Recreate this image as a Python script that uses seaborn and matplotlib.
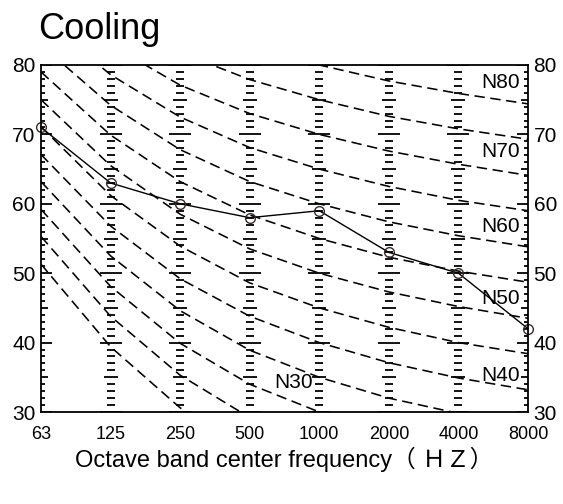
import pandas as pd
import matplotlib
matplotlib.use('Agg')
import matplotlib.pyplot as plt
import seaborn as sns

# Octave band centre frequencies and measured levels (cooling)
freqs = ['63', '125', '250', '500', '1000', '2000', '4000', '8000']
measured = [71, 63, 60, 58, 59, 53, 50, 42]

# N curves read per octave band
n20 = [51.3, 39.4, 30.6, 24.3, 20.0, 16.8, 14.4, 12.6]
n25 = [55.3, 43.8, 35.3, 29.2, 25.0, 21.9, 19.5, 17.8]
n30 = [59.2, 48.1, 39.9, 34.0, 30.0, 27.0, 24.7, 22.9]
n35 = [63.2, 52.5, 44.6, 38.9, 35.0, 32.0, 29.8, 28.1]
n40 = [67.1, 56.8, 49.2, 43.8, 40.0, 37.1, 34.9, 33.2]
n45 = [71.1, 61.2, 53.9, 48.6, 45.0, 42.2, 40.0, 38.4]
n50 = [75.0, 65.5, 58.5, 53.5, 50.0, 47.3, 45.2, 43.5]
n55 = [79.0, 69.9, 63.2, 58.4, 55.0, 52.3, 50.3, 48.7]
n60 = [82.9, 74.2, 67.8, 63.2, 60.0, 57.4, 55.4, 53.8]
n65 = [86.9, 78.6, 72.5, 68.1, 65.0, 62.5, 60.5, 59.0]
n70 = [90.8, 82.9, 77.1, 73.0, 70.0, 67.6, 65.7, 64.1]
n75 = [94.8, 87.3, 81.8, 77.9, 75.0, 72.6, 70.8, 69.3]
n80 = [98.7, 91.6, 86.4, 82.7, 80.0, 77.7, 75.9, 74.4]

curve_names = ['N20', 'N25', 'N30', 'N35', 'N40', 'N45', 'N50',
               'N55', 'N60', 'N65', 'N70', 'N75', 'N80']
curve_values = [n20, n25, n30, n35, n40, n45, n50,
                n55, n60, n65, n70, n75, n80]
labelled = ['N30', 'N40', 'N50', 'N60', 'N70', 'N80']

sns.set_style('white')
plt.rcParams['font.family'] = ['Liberation Sans', 'Noto Sans CJK JP']
plt.rcParams['text.color'] = 'black'
plt.rcParams['axes.labelcolor'] = 'black'
plt.rcParams['xtick.color'] = 'black'
plt.rcParams['ytick.color'] = 'black'

pos = list(range(len(freqs)))
rows = []
for name, vals in zip(curve_names, curve_values):
    for p, v in zip(pos, vals):
        rows.append({'curve': name, 'pos': p, 'level': v})
curves_df = pd.DataFrame(rows)
meas_df = pd.DataFrame({'pos': pos, 'level': measured})

fig = plt.figure(figsize=(5.63, 5.04), dpi=100)
ax = fig.add_axes([41 / 563, 92 / 504, 487 / 563, 347 / 504])

# graduated scales at every band (also gives the spine ticks, clipped)
px = 487 / 7
for p in pos:
    for db in range(30, 81):
        if db % 10 == 0:
            half = 11
        elif db % 5 == 0:
            half = 7
        else:
            half = 4
        ax.hlines(db, p - half / px, p + half / px, color='black', lw=1.3)

sns.lineplot(data=curves_df, x='pos', y='level', units='curve', estimator=None,
             color='black', lw=1.15, linestyle=(0, (6.5, 3.5)), ax=ax)

sns.lineplot(data=meas_df, x='pos', y='level', color='black', lw=1.0,
             marker='o', markersize=7, markerfacecolor='none',
             markeredgecolor='#3a2a2a', markeredgewidth=1.0, clip_on=False, ax=ax)

label_pos = {'N80': (6.885, 77.5), 'N70': (6.885, 67.5), 'N60': (6.885, 56.7),
             'N50': (6.885, 46.4), 'N40': (6.885, 35.3), 'N30': (3.91, 34.3)}
for name in labelled:
    x, y = label_pos[name]
    ax.text(x, y, name, ha='right', va='center', fontsize=15)

ax.set_xlim(0, 7)
ax.set_ylim(30, 80)
ax.set_xticks(pos)
ax.set_xticklabels(freqs, fontsize=13)
ax.set_yticks(range(30, 81, 10))
ax.tick_params(axis='x', length=0, pad=10)
ax.tick_params(axis='y', length=0, labelsize=15, pad=4, labelright=True)
for s in ax.spines.values():
    s.set_color('black')
    s.set_linewidth(1.3)

ax.set_xlabel('Octave band center frequency（ ＨＺ）', fontsize=17, labelpad=3)
ax.set_ylabel('')

fig.text(38 / 563, 1 - 39 / 504, 'Cooling', fontsize=26, ha='left', va='baseline')

fig.savefig('out.png', dpi=100)
